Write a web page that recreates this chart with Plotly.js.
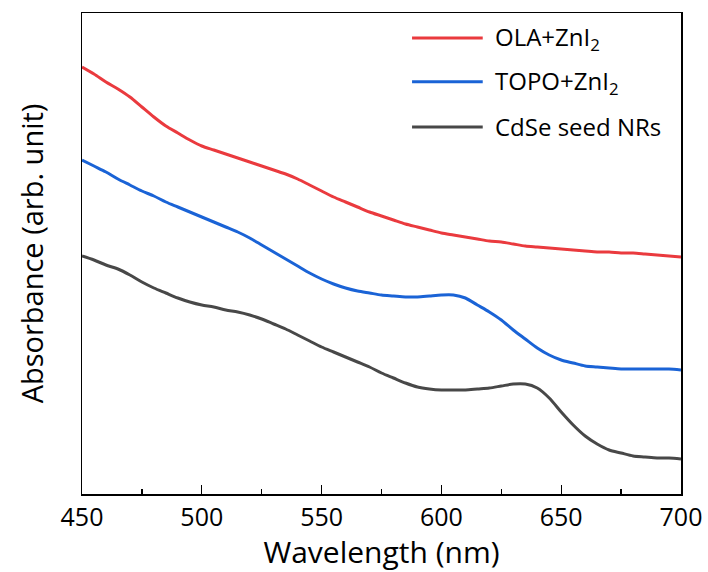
<!DOCTYPE html>
<html>
<head>
<meta charset="utf-8">
<script src="https://cdn.plot.ly/plotly-3.0.1.min.js"></script>
<style>html,body{margin:0;padding:0;background:#fff;}#chart{width:708px;height:572px;}</style>
</head>
<body>
<div id="chart"></div>
<script>
// Wavelength (nm), 5 nm steps
const wavelength = [450,455,460,465,470,475,480,485,490,495,500,505,510,515,520,525,530,535,540,545,550,555,560,565,570,575,580,585,590,595,600,605,610,615,620,625,630,635,640,645,650,655,660,665,670,675,680,685,690,695,700];
// Absorbance (arb. unit)
const olaZnI2  = [4.27,4.20,4.12,4.05,3.97,3.87,3.77,3.68,3.61,3.54,3.48,3.44,3.40,3.36,3.32,3.28,3.24,3.20,3.15,3.09,3.03,2.97,2.92,2.87,2.82,2.78,2.74,2.70,2.67,2.64,2.61,2.59,2.57,2.55,2.53,2.52,2.50,2.48,2.47,2.46,2.45,2.44,2.43,2.42,2.42,2.41,2.41,2.40,2.39,2.38,2.37];
const topoZnI2 = [3.34,3.28,3.22,3.15,3.09,3.03,2.98,2.92,2.87,2.82,2.77,2.72,2.67,2.62,2.56,2.49,2.42,2.35,2.28,2.21,2.15,2.10,2.06,2.03,2.01,1.99,1.98,1.97,1.97,1.98,1.99,1.99,1.96,1.89,1.82,1.74,1.64,1.55,1.46,1.39,1.34,1.31,1.28,1.27,1.26,1.25,1.25,1.25,1.25,1.25,1.24];
const cdseSeed = [2.38,2.34,2.29,2.25,2.19,2.12,2.06,2.01,1.96,1.92,1.89,1.87,1.84,1.82,1.79,1.75,1.70,1.65,1.59,1.53,1.47,1.42,1.37,1.32,1.27,1.21,1.16,1.11,1.07,1.05,1.04,1.04,1.04,1.05,1.06,1.08,1.10,1.10,1.06,0.96,0.82,0.69,0.58,0.50,0.44,0.41,0.38,0.37,0.36,0.36,0.35];

const seriesNames = ['OLA+ZnI<sub>2</sub>', 'TOPO+ZnI<sub>2</sub>', 'CdSe seed NRs'];
const seriesValues = [olaZnI2, topoZnI2, cdseSeed];
const seriesColors = ['#ea3a3e', '#1a63d6', '#484848'];
const xTicks = [450, 500, 550, 600, 650, 700];

const FONT = 'Open Sans, sans-serif';

const traces = seriesValues.map((vals, i) => ({
  x: wavelength, y: vals, type: 'scatter', mode: 'lines',
  name: seriesNames[i], line: {color: seriesColors[i], width: 3, shape: 'spline', smoothing: 0.8},
  showlegend: false
}));

// Custom legend (long line samples)
const legY = [0.948, 0.857, 0.763];
const shapes = [], annotations = [];
seriesNames.forEach((n, i) => {
  shapes.push({type: 'line', xref: 'paper', yref: 'paper', x0: 0.551, x1: 0.669, y0: legY[i], y1: legY[i],
    line: {color: seriesColors[i], width: 3}});
  annotations.push({xref: 'paper', yref: 'paper', x: 0.686, y: legY[i], xanchor: 'left', yanchor: 'middle',
    text: n, showarrow: false, font: {family: FONT, size: 24, color: '#000'}});
});

const layout = {
  width: 708, height: 572,
  margin: {l: 82, r: 27, t: 13, b: 78},
  paper_bgcolor: '#fff', plot_bgcolor: '#fff',
  showlegend: false,
  xaxis: {
    range: [450, 700], tickvals: xTicks, ticktext: xTicks.map(String),
    ticks: 'inside', ticklen: 9, tickwidth: 1.2, tickcolor: '#000',
    minor: {dtick: 25, tick0: 450, ticks: 'inside', ticklen: 5, tickcolor: '#000', tickwidth: 1.2, showgrid: false},
    showline: true, linecolor: '#000', linewidth: 1.5, mirror: true,
    showgrid: false, zeroline: false,
    tickfont: {family: FONT, size: 25, color: '#000'},
    title: {text: 'Wavelength (nm)', font: {family: FONT, size: 30, color: '#000'}, standoff: 6},
    automargin: false
  },
  yaxis: {
    range: [0, 4.81], showticklabels: false, ticks: '',
    showline: true, linecolor: '#000', linewidth: 1.5, mirror: true,
    showgrid: false, zeroline: false,
    title: {text: 'Absorbance (arb. unit)', font: {family: FONT, size: 29, color: '#000'}, standoff: 28},
    automargin: false
  },
  shapes: shapes,
  annotations: annotations
};

Plotly.newPlot('chart', traces, layout, {displayModeBar: false, staticPlot: true});
</script>
</body>
</html>
